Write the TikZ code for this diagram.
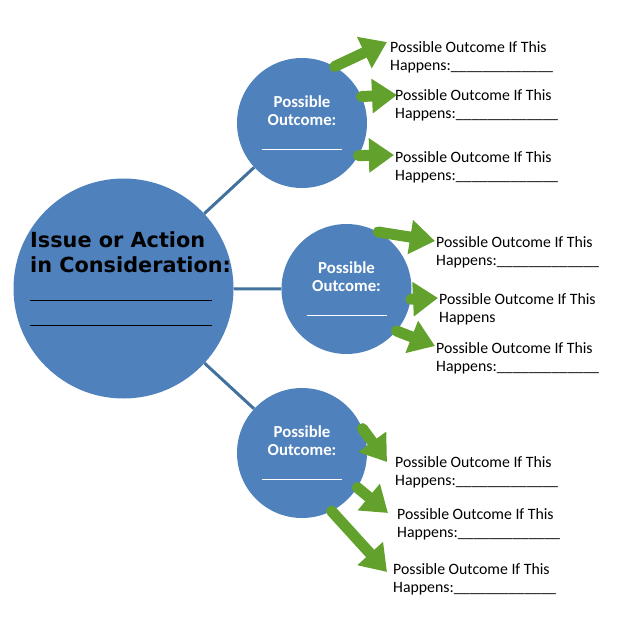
\documentclass[tikz,border=0pt]{standalone}
\usepackage{fontspec}
\setmainfont{Carlito}
\newfontfamily\verdana{DejaVu Sans}
\usetikzlibrary{arrows.meta}
\definecolor{circleblue}{HTML}{4F81BD}
\definecolor{linkblue}{HTML}{41719C}
\definecolor{arrowgreen}{HTML}{62A12C}
\tikzset{
  issuecircle/.style = {circle, fill=circleblue, minimum size=220pt, inner sep=0pt},
  outcome/.style     = {circle, fill=circleblue, minimum size=130pt, inner sep=0pt,
                        text=white, align=center, font=\fontsize{16.8}{18.5}\selectfont\bfseries},
  link/.style        = {linkblue, line width=3pt},
  greenarrow/.style  = {arrowgreen, line width=11pt, line cap=round,
                        -{Triangle[width=33pt, length=25pt]}},
  result/.style      = {anchor=north west, inner sep=0pt, align=left,
                        font=\fontsize{15.8}{18.5}\selectfont}
}
\newcommand{\blank}{\_\_\_\_\_\_\_\_\_\_\_\_\_}
\begin{document}
\begin{tikzpicture}[x=1pt, y=-1pt]
    \useasboundingbox (0,0) rectangle (618,642);
    % the circles
    \node[issuecircle] (issue)  at (123.5, 288.5) {};
    \node[outcome]     (top)    at (302, 123)   {Possible\\Outcome:\\[6pt]\rule{80pt}{1.3pt}};
    \node[outcome]     (middle) at (346.5, 289) {Possible\\Outcome:\\[6pt]\rule{80pt}{1.3pt}};
    \node[outcome]     (bottom) at (302, 453)   {Possible\\Outcome:\\[6pt]\rule{80pt}{1.3pt}};
    \node[anchor=north west, inner sep=0pt, align=left,
          font=\verdana\fontsize{20.8}{25}\selectfont\bfseries] (issuetxt) at (30, 231)
          {Issue or Action\\in Consideration:\\[4pt]\rule{182pt}{0.8pt}\\\rule{182pt}{0.8pt}};
    \draw[link] (issue) -- (top);
    \draw[link] (issue) -- (middle);
    \draw[link] (issue) -- (bottom);
    % outcomes of the outcomes
    \node[result] (topone)    at (390, 41)  {Possible Outcome If This\\Happens:\blank};
    \node[result] (toptwo)    at (395, 89)  {Possible Outcome If This\\Happens:\blank};
    \node[result] (topthree)  at (395, 151) {Possible Outcome If This\\Happens:\blank};
    \node[result] (midone)    at (436, 236) {Possible Outcome If This\\Happens:\blank};
    \node[result] (midtwo)    at (439, 293) {Possible Outcome If This\\Happens};
    \node[result] (midthree)  at (436, 342) {Possible Outcome If This\\Happens:\blank};
    \node[result] (botone)    at (395, 456) {Possible Outcome If This\\Happens:\blank};
    \node[result] (bottwo)    at (397, 508) {Possible Outcome If This\\Happens:\blank};
    \node[result] (botthree)  at (393, 563) {Possible Outcome If This\\Happens:\blank};
    % arrow tips
    \coordinate (toponetip)   at (387, 42);
    \coordinate (toptwotip)   at (397, 95);
    \coordinate (topthreetip) at (394, 155);
    \coordinate (midonetip)   at (435, 241);
    \coordinate (midtwotip)   at (438, 298);
    \coordinate (midthreetip) at (435, 346);
    \coordinate (botonetip)   at (387, 462);
    \coordinate (bottwotip)   at (388, 513);
    \coordinate (botthreetip) at (387, 572);
    \draw[greenarrow] (top.60)     -- (toponetip);
    \draw[greenarrow] (top.24)     -- (toptwotip);
    \draw[greenarrow] (top.-30)    -- (topthreetip);
    \draw[greenarrow] (middle.61)  -- (midonetip);
    \draw[greenarrow] (middle.-9)  -- (midtwotip);
    \draw[greenarrow] (middle.-40) -- (midthreetip);
    \draw[greenarrow] (bottom.22)  -- (botonetip);
    \draw[greenarrow] (bottom.-32) -- (bottwotip);
    \draw[greenarrow] (bottom.-63) -- (botthreetip);
  \end{tikzpicture}
\end{document}
